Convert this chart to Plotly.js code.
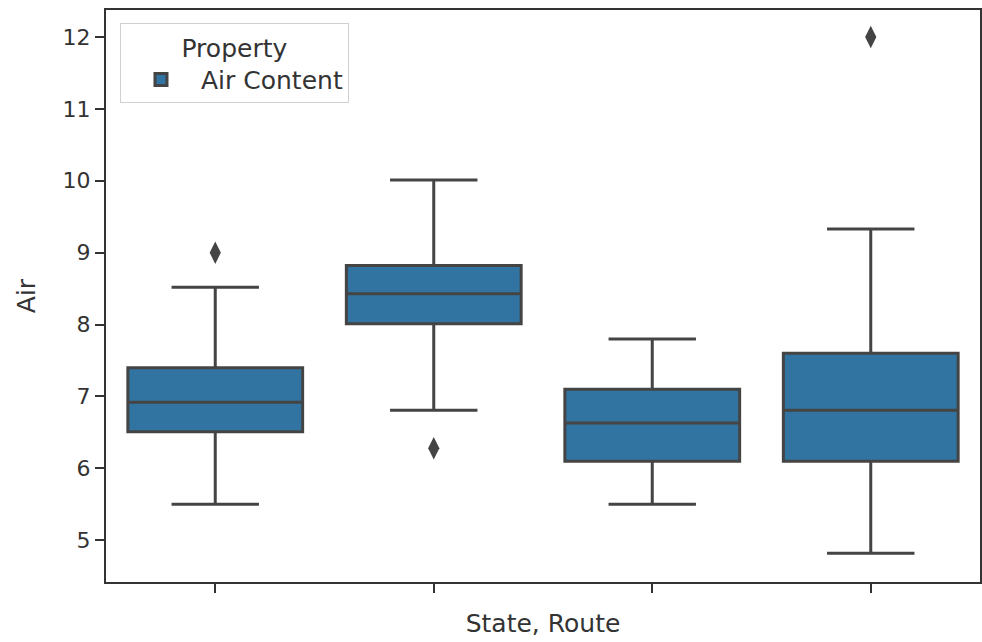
<!DOCTYPE html>
<html>
<head>
<meta charset="utf-8">
<script src="https://cdn.plot.ly/plotly-3.0.1.min.js"></script>
<style>html,body{margin:0;padding:0;background:#fff;}#chart{width:982px;height:642px;}</style>
</head>
<body>
<div id="chart"></div>
<script>
const categories = ["Route 1", "Route 2", "Route 3", "Route 4"];
const q1 = [6.51, 8.01, 6.10, 6.10];
const median = [6.92, 8.43, 6.63, 6.81];
const q3 = [7.40, 8.82, 7.10, 7.60];
const lowerFence = [5.50, 6.81, 5.50, 4.82];
const upperFence = [8.52, 10.01, 7.80, 9.33];
const outlierX = ["Route 1", "Route 2", "Route 4"];
const outlierY = [9.00, 6.28, 12.00];
const yTicks = [5, 6, 7, 8, 9, 10, 11, 12];

const fontFam = 'DejaVu Sans, sans-serif';
const lineColor = '#444444';

const traces = [
  {
    type: 'box',
    name: 'Air Content',
    x: categories,
    q1: q1, median: median, q3: q3,
    lowerfence: lowerFence, upperfence: upperFence,
    fillcolor: '#3274a1',
    line: {color: lineColor, width: 3},
    whiskerwidth: 0.5,
    width: 0.8,
    boxpoints: false,
    hoverinfo: 'y',
    showlegend: true
  },
  {
    type: 'scatter',
    mode: 'markers',
    x: outlierX,
    y: outlierY,
    marker: {symbol: 'diamond-tall', size: 16, color: lineColor},
    showlegend: false,
    hoverinfo: 'y'
  }
];

const layout = {
  width: 982, height: 642,
  margin: {l: 106, r: 2, t: 10, b: 60},
  paper_bgcolor: '#fff', plot_bgcolor: '#fff',
  font: {family: fontFam, color: '#333', size: 22},
  xaxis: {
    type: 'category',
    categoryarray: categories,
    range: [-0.5, 3.5],
    showticklabels: false,
    ticks: 'outside', ticklen: 9, tickwidth: 2, tickcolor: '#333',
    showline: true, linecolor: '#333', linewidth: 2, mirror: true,
    showgrid: false, zeroline: false,
    title: {text: 'State, Route', font: {size: 25, family: fontFam, color: '#333'}, standoff: 22}
  },
  yaxis: {
    range: [4.42, 12.375],
    tickvals: yTicks,
    ticks: 'outside', ticklen: 9, tickwidth: 2, tickcolor: '#333',
    tickfont: {size: 22, family: fontFam, color: '#333'},
    showline: true, linecolor: '#333', linewidth: 2, mirror: true,
    showgrid: false, zeroline: false,
    title: {text: 'Air', font: {size: 25, family: fontFam, color: '#333'}, standoff: 20}
  },
  legend: {
    x: 0.016, y: 0.977, xanchor: 'left', yanchor: 'top',
    bgcolor: 'rgba(255,255,255,0.9)', bordercolor: '#d0d0d0', borderwidth: 1,
    font: {size: 25, family: fontFam, color: '#333'},
    itemwidth: 70,
    title: {text: 'Property', side: 'top center', font: {size: 25, family: fontFam, color: '#333'}}
  },
  showlegend: true
};

Plotly.newPlot('chart', traces, layout, {displayModeBar: false, staticPlot: true});
</script>
</body>
</html>
